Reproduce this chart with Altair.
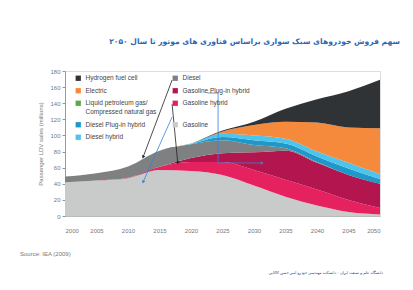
import altair as alt
import pandas as pd

# ---------------- data ----------------
years = [2000, 2005, 2010, 2015, 2020, 2025, 2030, 2035, 2040, 2045, 2050]

gasoline = [42, 44, 47, 57, 56, 51, 38, 24, 13, 5, 2]
gasoline_hybrid = [0, 0, 0.5, 4, 11, 16, 19, 21, 20, 15, 8]
gasoline_plugin = [0, 0, 0, 0, 5, 11, 22, 36, 33, 31, 30]
diesel = [7, 9, 14, 20, 17, 16, 9, 3, 1, 0, 0]
diesel_plugin = [0, 0, 0, 0, 0.5, 4, 6, 6, 7, 8, 6]
diesel_hybrid = [0, 0, 0, 0, 0.5, 4, 6, 6, 6, 7, 6]
lpg_cng = [0, 0, 0, 0, 0, 0, 0, 0, 0, 0, 0]
electric = [0, 0, 0, 0, 0, 3, 13, 21, 36, 44, 57]
hydrogen = [0, 0, 0, 0, 0, 1, 4, 16, 29, 45, 60]

# stack order, bottom to top
stack_names = [
    "Gasoline",
    "Gasoline hybrid",
    "Gasoline Plug-in hybrid",
    "Diesel",
    "Diesel Plug-in hybrid",
    "Diesel hybrid",
    "Liquid petroleum gas/Compressed natural gas",
    "Electric",
    "Hydrogen fuel cell",
]
stack_values = [gasoline, gasoline_hybrid, gasoline_plugin, diesel,
                diesel_plugin, diesel_hybrid, lpg_cng, electric, hydrogen]
stack_colors = ["#c9cbcb", "#e6215f", "#b3164e", "#7e8081",
                "#1f98c9", "#4cc4ec", "#5aa845", "#f58a3c", "#303336"]

# legend order (column-major, 2 columns)
legend_order = [
    "Hydrogen fuel cell",
    "Electric",
    "Liquid petroleum gas/Compressed natural gas",
    "Diesel Plug-in hybrid",
    "Diesel hybrid",
    "Diesel",
    "Gasoline Plug-in hybrid",
    "Gasoline hybrid",
    "Gasoline",
]

x_ticks = [2000, 2005, 2010, 2015, 2020, 2025, 2030, 2035, 2040, 2045, 2050]
y_ticks = [0, 20, 40, 60, 80, 100, 120, 140, 160, 180]

# annotation arrows (data units)
arrow_x = [2017.0, 2017.0, 2017.0, 2022.6, 2024.3, 2024.3]
arrow_y = [168.8, 139.0, 122.9, 152.7, 152.7, 65.8]
arrow_x2 = [2012.4, 2017.9, 2012.4, 2024.3, 2024.3, 2031.3]
arrow_y2 = [73.2, 65.8, 42.2, 152.7, 65.8, 65.8]
arrow_kind = ["black", "black", "blue", "blue", "blue", "blue"]
arrow_head = [True, True, True, False, False, True]
arrow_angle = [201, 174, 204, 90, 180, 90]

title_text = "سهم فروش خودروهای سبک سواری براساس فناوری های موتور تا سال ۲۰۵۰"
source_text = "Source: IEA (2009)"
footer_text = "دانشگاه علم و صنعت ایران - دانشکده مهندسی خودرو    امیر حسن کاکایی"

# ---------------- build table ----------------
rows = []
for i, (name, vals) in enumerate(zip(stack_names, stack_values)):
    for yr, v in zip(years, vals):
        rows.append({"year": yr, "value": v, "series": name, "idx": i})
df = pd.DataFrame(rows)

color_map = dict(zip(stack_names, stack_colors))
legend_colors = [color_map[n] for n in legend_order]

arrows = pd.DataFrame({"x": arrow_x, "y": arrow_y, "x2": arrow_x2, "y2": arrow_y2,
                       "kind": arrow_kind, "head": arrow_head, "angle": arrow_angle})

x_scale = alt.Scale(domain=[2000, 2050], nice=False, zero=False)
y_scale = alt.Scale(domain=[0, 180], nice=False)

x_axis = alt.Axis(values=x_ticks, format="d", title=None, labelFontSize=6,
                  labelColor="#777", labelFont="Liberation Sans", labelOverlap=False,
                  tickSize=0, labelPadding=11, domainColor="#bbb", grid=False)
y_axis = alt.Axis(values=y_ticks, format="d", title="Passenger LDV sales (millions)",
                  labelFontSize=6, labelColor="#777", labelFont="Liberation Sans",
                  labelOverlap=False,
                  tickSize=3, tickColor="#999", domainColor="#999", grid=False,
                  titleFontSize=6, titleFontWeight="normal", titleColor="#777",
                  titleFont="Liberation Sans", titlePadding=6, labelPadding=2)

lpg_label = "Liquid petroleum gas/Compressed natural gas"

area = alt.Chart(df).mark_area(interpolate="monotone").encode(
    x=alt.X("year:Q", scale=x_scale, axis=x_axis),
    y=alt.Y("value:Q", stack="zero", scale=y_scale, axis=y_axis),
    color=alt.Color("series:N",
                    scale=alt.Scale(domain=legend_order, range=legend_colors),
                    legend=alt.Legend(orient="none", legendX=10, legendY=4, columns=2,
                                      gridAlign="none",
                                      title=None, symbolType="square", symbolSize=28,
                                      symbolStrokeWidth=0, labelFontSize=6.5,
                                      labelFont="Liberation Sans", labelColor="#444",
                                      rowPadding=5.5, columnPadding=15, labelLimit=0,
                                      labelExpr=f"datum.label == '{lpg_label}' ? ['Liquid petroleum gas/', 'Compressed natural gas'] : datum.label")),
    order=alt.Order("idx:Q", sort="ascending"),
)


def arrow_layers(kind, col):
    src = alt.Chart(arrows).transform_filter(f"datum.kind == '{kind}'")
    ln = src.mark_rule(strokeWidth=0.8, color=col).encode(
        x=alt.X("x:Q", scale=x_scale, axis=x_axis), y=alt.Y("y:Q", scale=y_scale, axis=y_axis),
        x2="x2:Q", y2="y2:Q",
    )
    hd = src.transform_filter("datum.head").mark_point(
        shape="triangle-up", filled=True, size=12, opacity=1, color=col).encode(
        x=alt.X("x2:Q", scale=x_scale, axis=x_axis), y=alt.Y("y2:Q", scale=y_scale, axis=y_axis),
        angle=alt.Angle("angle:Q", scale=None),
    )
    return [ln, hd]


title = alt.Chart(pd.DataFrame({"t": [title_text]})).mark_text(
    align="right", baseline="middle", fontSize=7.6, fontWeight="bold",
    font="DejaVu Sans", color="#2d66b2").encode(
    text="t:N", x=alt.value(335), y=alt.value(-29))

source = alt.Chart(pd.DataFrame({"t": [source_text]})).mark_text(
    align="left", baseline="middle", fontSize=6, font="Liberation Sans",
    color="#777").encode(text="t:N", x=alt.value(-45), y=alt.value(183))

footer = alt.Chart(pd.DataFrame({"t": [footer_text]})).mark_text(
    align="right", baseline="middle", fontSize=3.8, font="DejaVu Sans",
    color="#1f3a7a").encode(text="t:N", x=alt.value(318), y=alt.value(202))

chart = alt.layer(area, *arrow_layers("black", "#222222"), *arrow_layers("blue", "#3b7fd8"),
                  title, source, footer).properties(
    width=315, height=145,
    autosize=alt.AutoSizeParams(type="none"),
    padding={"left": 57, "top": 63, "right": 25, "bottom": 66},
).configure_view(stroke=None).configure(background="white")

chart.save("out.html", embed_options={"renderer": "svg", "actions": False})
